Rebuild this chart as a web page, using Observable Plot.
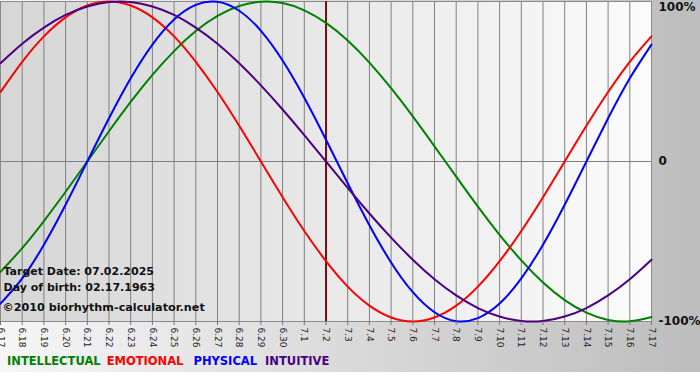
<!DOCTYPE html>
<html>
<head>
<meta charset="utf-8">
<script src="https://cdn.jsdelivr.net/npm/d3@7"></script>
<script src="https://cdn.jsdelivr.net/npm/@observablehq/plot@0.6"></script>
<style>
  html, body { margin: 0; padding: 0; background: #ffffff; }
  #wrap { width: 700px; height: 372px; background: linear-gradient(to right, #f6f6f6, #bdbdbd); position: relative; overflow: hidden; }
  #chart svg { display: block; }
  #legend { position: absolute; left: 7px; top: 354px; font: bold 11.5px "DejaVu Sans", Verdana, sans-serif; white-space: nowrap; }
  #legend span { display: inline-block; }
</style>
</head>
<body>
<div id="wrap">
  <div id="chart"></div>
  <div id="legend"></div>
</div>
<script>
// Day labels (6.17 .. 7.17)
const dayLabels = ["6.17","6.18","6.19","6.20","6.21","6.22","6.23","6.24","6.25","6.26","6.27","6.28","6.29","6.30",
  "7.1","7.2","7.3","7.4","7.5","7.6","7.7","7.8","7.9","7.10","7.11","7.12","7.13","7.14","7.15","7.16","7.17"];

// Series values (fraction of 100%), one per day
const intellectual = [-0.690,-0.541,-0.372,-0.189,0.000,0.189,0.372,0.541,0.690,0.815,0.910,0.972,0.999,0.990,0.945,0.866,0.756,0.618,0.458,0.282,0.095,-0.095,-0.282,-0.458,-0.618,-0.756,-0.866,-0.945,-0.990,-0.999,-0.972];
const emotional    = [0.434,0.623,0.782,0.901,0.975,1.000,0.975,0.901,0.782,0.623,0.434,0.223,0.000,-0.223,-0.434,-0.623,-0.782,-0.901,-0.975,-1.000,-0.975,-0.901,-0.782,-0.623,-0.434,-0.223,0.000,0.223,0.434,0.623,0.782];
const physical     = [-0.888,-0.731,-0.520,-0.270,0.000,0.270,0.520,0.731,0.888,0.979,0.998,0.942,0.817,0.631,0.398,0.136,-0.136,-0.398,-0.631,-0.817,-0.942,-0.998,-0.979,-0.888,-0.731,-0.520,-0.270,0.000,0.270,0.520,0.731];
const intuitive    = [0.614,0.736,0.837,0.916,0.969,0.997,0.997,0.969,0.916,0.837,0.736,0.614,0.476,0.325,0.165,0.000,-0.165,-0.325,-0.476,-0.614,-0.736,-0.837,-0.916,-0.969,-0.997,-0.997,-0.969,-0.916,-0.837,-0.736,-0.614];

const seriesNames = ["INTELLECTUAL","EMOTIONAL","PHYSICAL","INTUITIVE"];
const seriesColors = ["#008000","#ff0000","#0000ff","#4b0082"];
const targetLabel = "7.2";
const yTicks = [1, 0, -1];
const yTickLabels = ["100%", "0", "-100%"];
const infoLines = ["Target Date: 07.02.2025", "Day of birth: 02.17.1963", "\u00a92010 biorhythm-calculator.net"];

const days = d3.range(dayLabels.length);
const seriesValues = [intellectual, emotional, physical, intuitive];
const rows = [];
seriesNames.forEach((name, s) => {
  seriesValues[s].forEach((v, i) => rows.push({series: name, day: i, value: v}));
});
const targetDay = dayLabels.indexOf(targetLabel);
const font = '"DejaVu Sans", Verdana, sans-serif';
const yFmt = v => yTickLabels[yTicks.indexOf(v)];

const chart = Plot.plot({
  width: 700,
  height: 350,
  marginLeft: 0,
  marginRight: 49,
  marginTop: 1,
  marginBottom: 29,
  style: {fontFamily: font, background: "transparent", overflow: "visible"},
  x: {domain: [0, dayLabels.length - 1], label: null},
  y: {domain: [-1, 1], label: null},
  color: {domain: seriesNames, range: seriesColors},
  marks: [
    Plot.frame({fill: "url(#plotbg)"}),
    Plot.ruleX(days, {stroke: "#808080", strokeWidth: 1}),
    Plot.ruleY([0], {stroke: "#808080", strokeWidth: 1}),
    Plot.frame({stroke: "#8a8a8a"}),
    Plot.ruleX([targetDay], {stroke: "#7a1010", strokeWidth: 2}),
    Plot.line(rows, {x: "day", y: "value", z: "series", stroke: "series", strokeWidth: 2, curve: "natural"}),
    Plot.axisX(days, {
      label: null, tickSize: 4, tickPadding: 2, tickRotate: 90, stroke: "#777",
      tickFormat: i => dayLabels[i], fontSize: 9, fill: "#222", textAnchor: "start"
    }),
    Plot.axisY([0, -1], {
      label: null, anchor: "right", tickSize: 0, tickPadding: 7,
      tickFormat: yFmt, fontSize: 12, fontWeight: "bold", fill: "#111"
    }),
    Plot.axisY([1], {
      label: null, anchor: "right", tickSize: 0, tickPadding: 7, dy: 6,
      tickFormat: yFmt, fontSize: 12, fontWeight: "bold", fill: "#111"
    }),
    Plot.text([infoLines[0]], {frameAnchor: "bottom-left", textAnchor: "start", dx: 3, dy: -47, fontSize: 11, fontWeight: "bold", fill: "#111"}),
    Plot.text([infoLines[1]], {frameAnchor: "bottom-left", textAnchor: "start", dx: 3, dy: -31, fontSize: 11, fontWeight: "bold", fill: "#111"}),
    Plot.text([infoLines[2]], {frameAnchor: "bottom-left", textAnchor: "start", dx: 2, dy: -11, fontSize: 11.2, fontWeight: "bold", fill: "#111"})
  ]
});

// gradient definition for plot background
const ns = "http://www.w3.org/2000/svg";
const defs = document.createElementNS(ns, "defs");
defs.innerHTML = '<linearGradient id="plotbg" x1="0" x2="1" y1="0" y2="0">' +
  '<stop offset="0" stop-color="#d6d6d6"/><stop offset="1" stop-color="#fbfbfb"/></linearGradient>';
chart.insertBefore(defs, chart.firstChild);
document.getElementById("chart").appendChild(chart);

const legend = document.getElementById("legend");
const gaps = [6, 10, 8, 0];
seriesNames.forEach((n, i) => {
  const s = document.createElement("span");
  s.textContent = n;
  s.style.color = seriesColors[i];
  s.style.marginRight = gaps[i] + "px";
  legend.appendChild(s);
});
</script>
</body>
</html>
